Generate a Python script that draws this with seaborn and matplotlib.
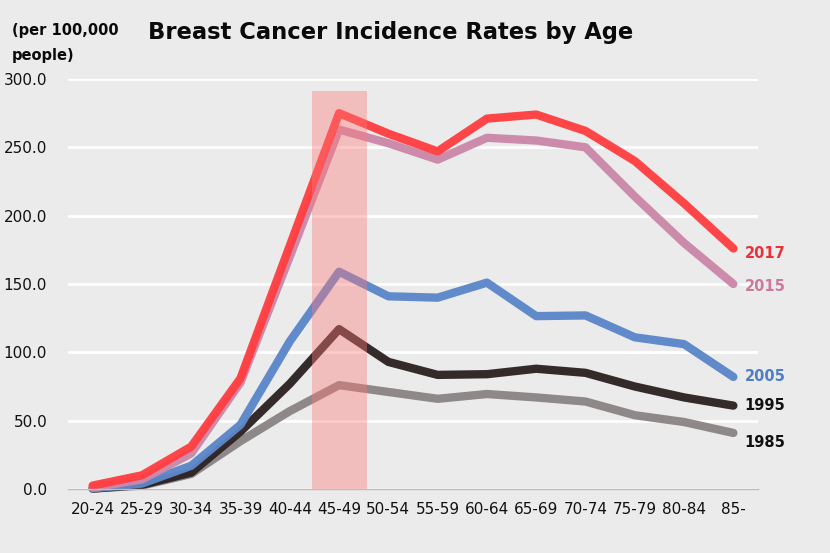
import seaborn as sns
import matplotlib.pyplot as plt
import pandas as pd

ages = ["20-24", "25-29", "30-34", "35-39", "40-44", "45-49", "50-54",
        "55-59", "60-64", "65-69", "70-74", "75-79", "80-84", "85-"]

rate_1985 = [0.3, 2.5, 11, 35, 57, 76, 71, 66, 69.5, 67, 64, 54, 49, 41]
rate_1995 = [0.3, 3, 12, 42, 77, 117, 93, 83.5, 84, 88, 85, 75, 67, 61]
rate_2005 = [0.5, 4, 17, 47, 108, 159, 141, 140, 151, 126.5, 127, 111, 106, 82]
rate_2015 = [1, 7, 26, 78, 170, 263, 253, 241, 257, 255, 250, 214, 180, 150]
rate_2017 = [2.5, 10, 31, 81, 178, 275, 260, 247, 271, 274, 262, 240, 209, 176]

years = ["1985", "1995", "2005", "2015", "2017"]
colors = {"1985": "#8c8585", "1995": "#2e2424", "2005": "#5b87c9",
          "2015": "#cc88aa", "2017": "#ff3f42"}
label_colors = {"1985": "#111111", "1995": "#111111", "2005": "#4f7ec6",
                "2015": "#cc7a9c", "2017": "#e8323a"}

series = [rate_1985, rate_1995, rate_2005, rate_2015, rate_2017]
df = pd.DataFrame({
    "age": ages * len(years),
    "x": list(range(len(ages))) * len(years),
    "year": [y for y in years for _ in ages],
    "rate": [v for s in series for v in s],
})

sns.set_theme(style="whitegrid")
plt.rcParams["font.family"] = ["DejaVu Sans"]
plt.rcParams["text.color"] = "#111111"
plt.rcParams["xtick.color"] = "#111111"
plt.rcParams["ytick.color"] = "#111111"

fig = plt.figure(figsize=(8.3, 5.53), dpi=100, facecolor="#ebebeb")
ax = fig.add_axes([68 / 830, 64 / 553, 690 / 830, 410 / 553])
ax.set_facecolor("#ebebeb")

for yr in years:
    sub = df[df["year"] == yr]
    sns.lineplot(data=sub, x="x", y="rate", color=colors[yr], lw=6,
                 ax=ax, solid_capstyle="round", solid_joinstyle="round",
                 clip_on=False, alpha=0.97)

# highlighted age band (45-49)
ax.fill_between([4.45, 5.57], 0, 291, color="#ff7878", alpha=0.4,
                lw=0, zorder=5)

ax.set_xlim(-0.5, 13.5)
ax.set_ylim(0, 300)
ax.set_yticks(range(0, 301, 50))
ax.set_yticklabels([f"{v:.1f}" for v in range(0, 301, 50)], fontsize=11)
ax.set_xticks(range(len(ages)))
ax.set_xticklabels(ages, fontsize=11)
ax.tick_params(axis="x", pad=9, length=0)
ax.tick_params(axis="y", pad=15, length=0)
ax.grid(axis="y", color="white", lw=2)
ax.grid(axis="x", visible=False)
for side in ["top", "right", "left"]:
    ax.spines[side].set_visible(False)
ax.spines["bottom"].set_color("#bdbdbd")
ax.spines["bottom"].set_linewidth(1)
ax.set_xlabel("")
ax.set_ylabel("")

label_offsets = {"2017": -4, "2015": -2, "2005": 0, "1995": 0, "1985": -7}
for yr, s in zip(years, series):
    ax.annotate(yr, (13, s[-1] + label_offsets[yr]), xytext=(8, 0),
                textcoords="offset points", va="center", ha="left",
                fontsize=10.5, fontweight="bold", color=label_colors[yr],
                annotation_clip=False)

fig.text(148 / 830, 1 - 33 / 553, "Breast Cancer Incidence Rates by Age",
         fontsize=16.3, fontweight="bold", va="center", ha="left",
         color="#0a0a0a")
fig.text(12 / 830, 1 - 43 / 553, "(per 100,000\npeople)", fontsize=10.5,
         fontweight="bold", va="center", ha="left", linespacing=1.8,
         color="#0a0a0a")

fig.savefig("out.png", dpi=100, facecolor=fig.get_facecolor())
